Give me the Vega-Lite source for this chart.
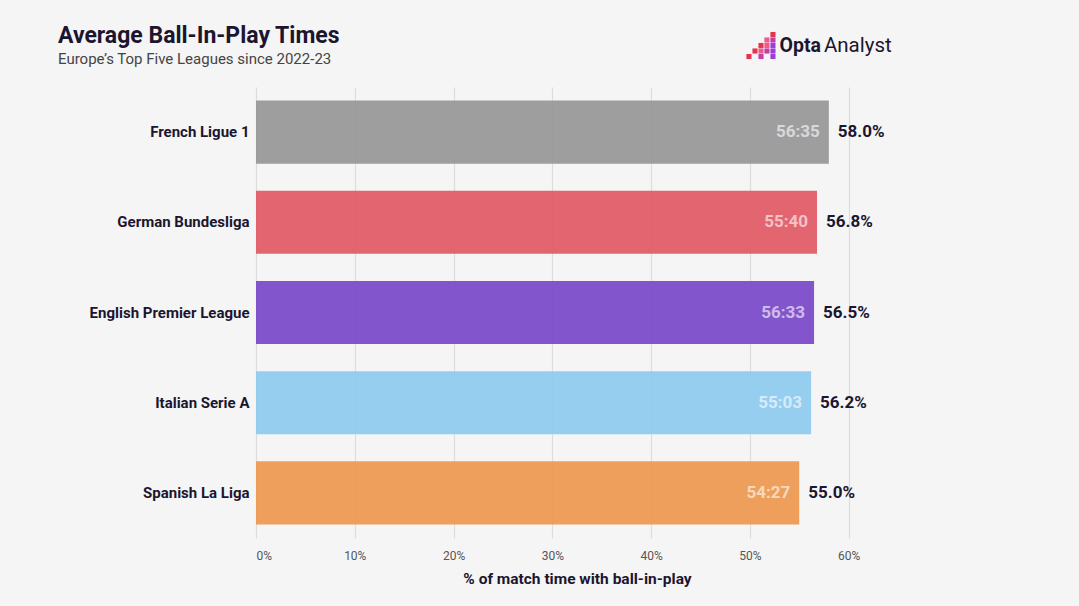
{
  "$schema": "https://vega.github.io/schema/vega-lite/v6.json",
  "autosize": "none",
  "width": 642,
  "height": 451,
  "padding": {"left": 256, "top": 87, "right": 181, "bottom": 68},
  "background": "#f5f5f5",
  "config": {
    "view": {"stroke": null},
    "font": "Roboto"
  },
  "title": {
    "text": "Average Ball-In-Play Times",
    "subtitle": "Europe’s Top Five Leagues since 2022-23",
    "anchor": "start",
    "frame": "group",
    "dx": -198,
    "offset": -35,
    "font": "Roboto",
    "fontSize": 23,
    "fontWeight": "bold",
    "color": "#1c1530",
    "subtitleFont": "Roboto",
    "subtitleFontSize": 15,
    "subtitleColor": "#444444",
    "subtitlePadding": 4
  },
  "datasets": {
    "logo": [
      {"px": 52.34, "py": 503.5, "tone": "red"},
      {"px": 51.73, "py": 498, "tone": "pink"},
      {"px": 52.34, "py": 498, "tone": "magenta"},
      {"px": 51.13, "py": 492.5, "tone": "red"},
      {"px": 51.73, "py": 492.5, "tone": "pink"},
      {"px": 52.34, "py": 492.5, "tone": "purple"},
      {"px": 50.52, "py": 487, "tone": "red"},
      {"px": 51.13, "py": 487, "tone": "pink"},
      {"px": 51.73, "py": 487, "tone": "magenta"},
      {"px": 52.34, "py": 487, "tone": "purple"},
      {"px": 49.91, "py": 481.5, "tone": "red"},
      {"px": 51.13, "py": 481.5, "tone": "magenta"},
      {"px": 52.34, "py": 481.5, "tone": "purple"}
    ],
    "brandBold": [
      {"word": "Opta", "px": 53.0, "py": 492}
    ],
    "brandLight": [
      {"word": "Analyst", "px": 57.5, "py": 492}
    ]
  },
  "data": {
    "values": [
      {"league": "French Ligue 1", "pct": 58.0, "time": "56:35", "pctLabel": "58.0%"},
      {"league": "German Bundesliga", "pct": 56.8, "time": "55:40", "pctLabel": "56.8%"},
      {"league": "English Premier League", "pct": 56.5, "time": "56:33", "pctLabel": "56.5%"},
      {"league": "Italian Serie A", "pct": 56.2, "time": "55:03", "pctLabel": "56.2%"},
      {"league": "Spanish La Liga", "pct": 55.0, "time": "54:27", "pctLabel": "55.0%"}
    ]
  },
  "resolve": {"scale": {"y": "independent", "color": "independent"}, "axis": {"y": "independent"}},
  "layer": [
    {
      "layer": [
        {
          "mark": {"type": "bar", "opacity": 0.9},
          "encoding": {
            "color": {
              "field": "league",
              "type": "nominal",
              "scale": {
                "domain": ["French Ligue 1", "German Bundesliga", "English Premier League", "Italian Serie A", "Spanish La Liga"],
                "range": ["#959595", "#e05560", "#7544c8", "#8ccaf0", "#ec964a"]
              },
              "legend": null
            }
          }
        },
        {
          "mark": {"type": "text", "align": "right", "dx": -9, "fontSize": 17, "fontWeight": "bold", "color": "#ffffff", "opacity": 0.6},
          "encoding": {"text": {"field": "time"}}
        },
        {
          "mark": {"type": "text", "align": "left", "dx": 9, "fontSize": 17, "fontWeight": "bold", "color": "#1c1530"},
          "encoding": {"text": {"field": "pctLabel"}}
        }
      ],
      "encoding": {
        "y": {
          "field": "league",
          "type": "nominal",
          "sort": null,
          "scale": {"paddingInner": 0.3, "paddingOuter": 0.15},
          "axis": {
            "title": null,
            "ticks": false,
            "domain": false,
            "labelFontSize": 15,
            "labelFontWeight": "bold",
            "labelColor": "#1c1530",
            "labelPadding": 7
          }
        },
        "x": {
          "field": "pct",
          "type": "quantitative",
          "scale": {"domain": [0, 65], "nice": false},
          "axis": {
            "title": "% of match time with ball-in-play",
            "titleFontSize": 15.5,
            "titleFontWeight": "bold",
            "titleColor": "#1c1530",
            "titlePadding": 10,
            "values": [0, 10, 20, 30, 40, 50, 60],
            "labelExpr": "datum.value + '%'",
            "labelFontSize": 12,
            "labelColor": "#555555",
            "labelPadding": 12,
            "ticks": false,
            "domain": false,
            "grid": true,
            "gridColor": "#dcdcdc",
            "gridWidth": 1.2
          }
        }
      }
    },
    {
      "data": {"name": "logo"},
      "mark": {"type": "point", "shape": "square", "filled": true, "size": 26, "opacity": 1},
      "encoding": {
        "x": {"field": "px", "type": "quantitative"},
        "y": {"field": "py", "type": "quantitative", "scale": {"domain": [0, 451], "nice": false, "zero": false}, "axis": null},
        "color": {
          "field": "tone",
          "type": "nominal",
          "scale": {"domain": ["red", "pink", "magenta", "purple"], "range": ["#e8334f", "#ee5a8a", "#c83aa8", "#9b3fd6"]},
          "legend": null
        }
      }
    },
    {
      "data": {"name": "brandBold"},
      "mark": {"type": "text", "align": "left", "baseline": "middle", "fontSize": 19.5, "fontWeight": "bold", "color": "#1c1530"},
      "encoding": {
        "x": {"field": "px", "type": "quantitative"},
        "y": {"field": "py", "type": "quantitative", "scale": {"domain": [0, 451], "nice": false, "zero": false}, "axis": null},
        "text": {"field": "word"}
      }
    },
    {
      "data": {"name": "brandLight"},
      "mark": {"type": "text", "align": "left", "baseline": "middle", "fontSize": 20.5, "fontWeight": "normal", "color": "#1c1530"},
      "encoding": {
        "x": {"field": "px", "type": "quantitative"},
        "y": {"field": "py", "type": "quantitative", "scale": {"domain": [0, 451], "nice": false, "zero": false}, "axis": null},
        "text": {"field": "word"}
      }
    }
  ]
}
